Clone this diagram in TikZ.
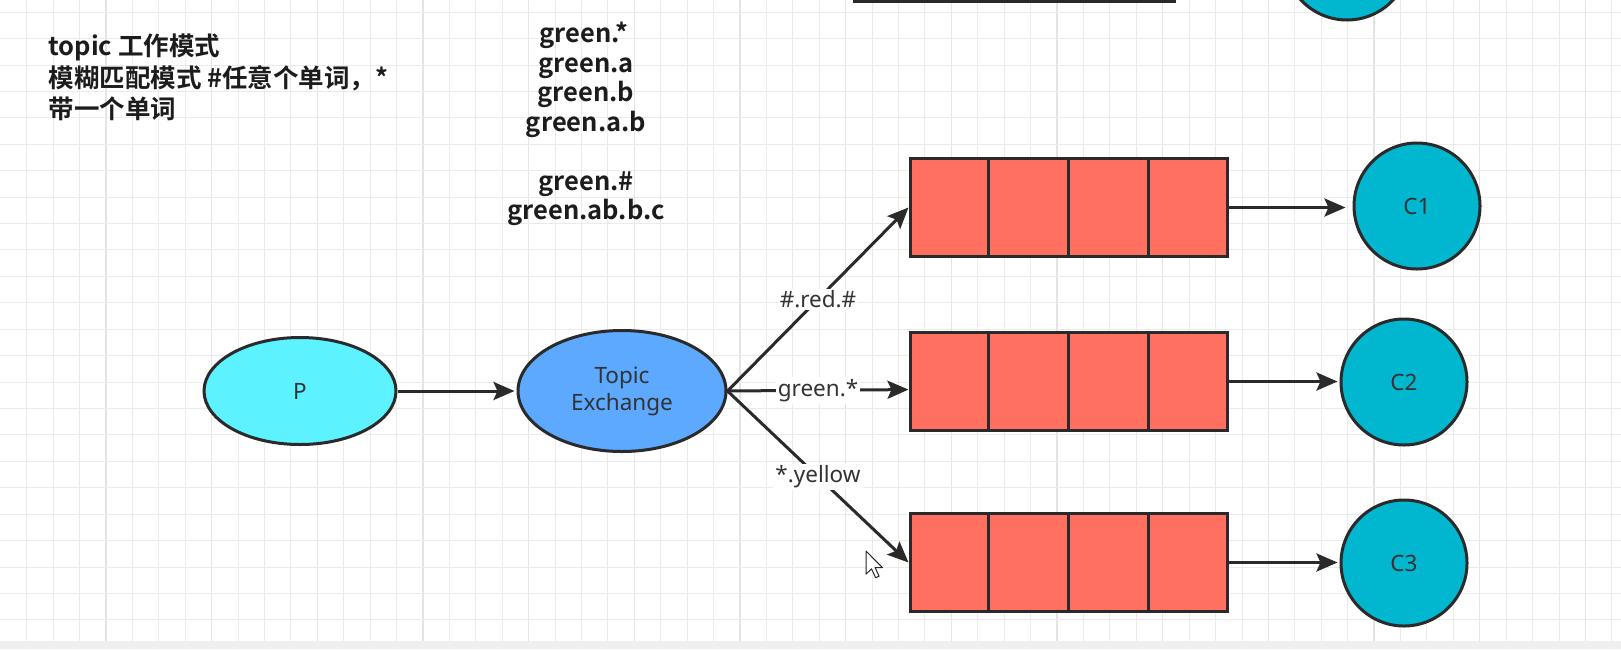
\documentclass[tikz,border=0pt]{standalone}
\usepackage{fontspec}
\setmainfont{Noto Sans}
\newfontfamily\cjk{Noto Sans CJK SC}[BoldFont={Noto Sans CJK SC Bold}]
\usetikzlibrary{shapes.geometric,arrows.meta,calc}
\definecolor{gridminor}{HTML}{EBEBEB}
\definecolor{gridmajor}{HTML}{E4E4E4}
\definecolor{pfill}{HTML}{5CF2FF}
\definecolor{exfill}{HTML}{5CA9FF}
\definecolor{qfill}{HTML}{FF7061}
\definecolor{cfill}{HTML}{00B7CF}
\definecolor{edge}{HTML}{2A2A2A}
\definecolor{txt}{HTML}{333333}
\definecolor{band}{HTML}{EFEFEF}
\definecolor{ink}{HTML}{1C1C1C}
\begin{document}
\begin{tikzpicture}[x=1pt,y=-1pt,
  shapeline/.style={draw=edge, line width=3pt},
  nodefont/.style={font=\fontsize{22.5}{27}\selectfont, text=txt},
  ellnode/.style={shapeline, ellipse, inner sep=0pt, nodefont, align=center},
  queue/.style={shapeline, rectangle, fill=qfill, minimum width=317pt, minimum height=98pt, inner sep=0pt},
  consumer/.style={shapeline, circle, fill=cfill, minimum size=126pt, inner sep=0pt, nodefont},
  conn/.style={draw=edge, line width=3pt, -{Stealth[length=21pt,width=18pt,inset=4pt]}},
  lbl/.style={fill=white, inner sep=2pt, nodefont},
  title/.style={anchor=base west, text=ink, font=\cjk\bfseries\fontsize{25.5}{31.5}\selectfont},
  keyline/.style={anchor=base, text=ink, font=\cjk\bfseries\fontsize{25.5}{29.5}\selectfont},
]
\useasboundingbox (0,0) rectangle (1621,649);
\fill[white] (0,0) rectangle (1621,649);
% grid
\foreach \k in {0,...,60} {
  \pgfmathtruncatemacro\m{mod(\k,4)}
  \ifnum\m=3
    \draw[gridmajor, line width=1.3pt] ({26.7+26.42*\k},0) -- ({26.7+26.42*\k},641);
  \else
    \draw[gridminor, line width=1pt] ({26.7+26.42*\k},0) -- ({26.7+26.42*\k},641);
  \fi
}
\foreach \j in {0,...,23} {
  \draw[gridminor, line width=1pt] (0,{12.2+26.42*\j}) -- (1621,{12.2+26.42*\j});
}
\fill[band] (0,641) rectangle (1621,649);

% title text
\node[title] (t1) at (45,55) {topic 工作模式};
\node[title] (t2) at (45,87) {模糊匹配模式 \#任意个单词，*};
\node[title] (t3) at (45,118) {带一个单词};

% routing key examples
\node[keyline] (k1) at (584,42) {green.*};
\node[keyline] (k2) at (586,72) {green.a};
\node[keyline] (k3) at (586,101) {green.b};
\node[keyline] (k4) at (586,131) {green.a.b};
\node[keyline] (k5) at (586,190) {green.\#};
\node[keyline] (k6) at (586,219) {green.ab.b.c};

% partially visible shapes at the top edge
\node[queue, minimum width=320pt, anchor=south west] (q0) at (853,3) {};
\node[consumer] (c0) at (1347,-43) {};

% main nodes
\node[ellnode, fill=pfill, minimum width=192pt, minimum height=107pt] (P) at (300,391) {P};
\node[ellnode, fill=exfill, minimum width=208pt, minimum height=121pt] (X) at (622,391) {Topic\\Exchange};

\node[queue] (q1) at (1068.5,207.5) {};
\node[queue] (q2) at (1068.5,381.5) {};
\node[queue] (q3) at (1068.5,562.5) {};
\foreach \q in {q1,q2,q3} {
  \foreach \f in {0.25,0.5,0.75} {
    \draw[shapeline] ($(\q.north west)!\f!(\q.north east)$) -- ($(\q.south west)!\f!(\q.south east)$);
  }
}

\node[consumer] (c1) at (1417,206) {C1};
\node[consumer] (c2) at (1404,382) {C2};
\node[consumer] (c3) at (1404,563) {C3};

\coordinate (q2in) at ($(q2.north west)!0.58!(q2.south west)$);

% connectors
\draw[conn, shorten >=2pt] (P.east) -- (X.west);
\draw[conn] (X.east) -- (q1.west) node[lbl, pos=0.5] {\#.red.\#};
\draw[conn] (X.east) -- (q2in) node[lbl, pos=0.5] {green.*};
\draw[conn] (X.east) -- (q3.west) node[lbl, pos=0.5] {*.yellow};
\draw[conn, shorten >=7pt] (q1.east) -- (q1.east -| c1.west);
\draw[conn, shorten >=2pt] (q2.east) -- (q2.east -| c2.west);
\draw[conn, shorten >=2pt] (q3.east) -- (q3.east -| c3.west);

% mouse pointer
\draw[fill=white, draw=black!85, line width=1pt, line join=round, shift={(866,551)}, scale=1.45]
  (0,0) -- (0,16) -- (3.8,12.3) -- (6.6,18.4) -- (9,17.4) -- (6.3,11.4) -- (11.3,11.4) -- cycle;
\end{tikzpicture}
\end{document}
